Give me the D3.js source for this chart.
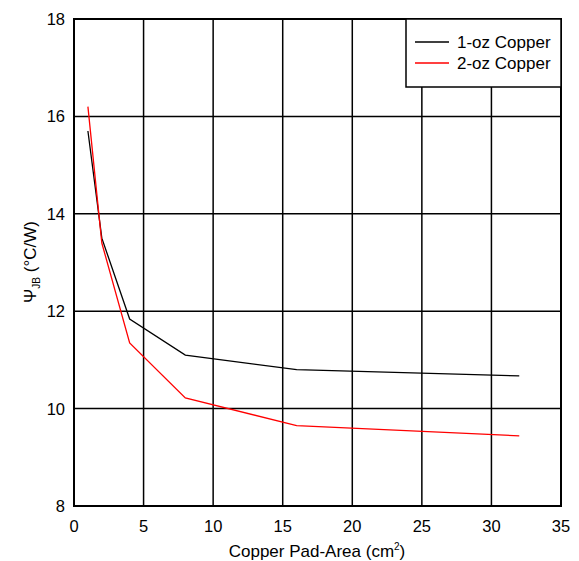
<!doctype html>
<html>
<head>
<script src="https://d3js.org/d3.v7.min.js"></script>
<style>
body { margin: 0; background: white; }
text { font-family: "Liberation Sans", Arial, sans-serif; }
</style>
</head>
<body>
<svg width="579" height="561" class="chart"></svg>
<script>
// values
var area = [1, 2, 4, 8, 16, 32];
var oz1 = [15.7, 13.5, 11.84, 11.1, 10.8, 10.67];
var oz2 = [16.2, 13.4, 11.35, 10.22, 9.65, 9.44];
var xTicks = [0, 5, 10, 15, 20, 25, 30, 35];
var yTicks = [8, 10, 12, 14, 16, 18];
var seriesNames = ["1-oz Copper", "2-oz Copper"];
var seriesColors = ["black", "red"];

var svg = d3.select(".chart");
var pl = 74, pt = 19, pr = 561, pb = 506;

var x = d3.scaleLinear().domain([0, 35]).range([pl, pr]);
var y = d3.scaleLinear().domain([8, 18]).range([pb, pt]);

// grid
svg.append("g").selectAll("line").data(xTicks).enter().append("line")
  .attr("x1", d => x(d)).attr("x2", d => x(d))
  .attr("y1", pt).attr("y2", pb)
  .style("stroke", "black").style("stroke-width", 1.5);
svg.append("g").selectAll("line").data(yTicks).enter().append("line")
  .attr("x1", pl).attr("x2", pr)
  .attr("y1", d => y(d)).attr("y2", d => y(d))
  .style("stroke", "black").style("stroke-width", 1.5);

svg.append("rect")
  .attr("x", pl).attr("y", pt)
  .attr("width", pr - pl).attr("height", pb - pt)
  .style("fill", "none").style("stroke", "black").style("stroke-width", 2);

// tick labels
svg.append("g").selectAll("text").data(xTicks).enter().append("text")
  .attr("x", d => x(d)).attr("y", 532)
  .attr("text-anchor", "middle")
  .style("font-size", "16.5px")
  .text(d => d);
svg.append("g").selectAll("text").data(yTicks).enter().append("text")
  .attr("x", 65).attr("y", d => y(d) + 6)
  .attr("text-anchor", "end")
  .style("font-size", "16.5px")
  .text(d => d);

// axis titles
var xt = svg.append("text")
  .attr("x", 317).attr("y", 557)
  .attr("text-anchor", "middle")
  .style("font-size", "17px");
xt.append("tspan").text("Copper Pad-Area (cm");
xt.append("tspan").attr("dy", -7).style("font-size", "10px").text("2");
xt.append("tspan").attr("dy", 7).text(")");

var yt = svg.append("text")
  .attr("transform", "translate(36,262) rotate(-90)")
  .attr("text-anchor", "middle")
  .style("font-size", "17px");
yt.append("tspan").text("\u03A8");
yt.append("tspan").attr("dy", 4).style("font-size", "10px").text("JB");
yt.append("tspan").attr("dy", -4).text(" (\u00B0C/W)");

// curves
var line = d3.line().x(d => x(d[0])).y(d => y(d[1]));
[oz1, oz2].forEach(function(vals, i) {
  svg.append("path")
    .datum(area.map((a, j) => [a, vals[j]]))
    .attr("d", line)
    .style("fill", "none")
    .style("stroke", seriesColors[i])
    .style("stroke-width", 1.3);
});

// legend
svg.append("rect")
  .attr("x", 406).attr("y", pt)
  .attr("width", pr - 406).attr("height", 68)
  .style("fill", "white").style("stroke", "black").style("stroke-width", 1.5);
seriesNames.forEach(function(n, i) {
  var ly = 42 + i * 21;
  svg.append("line")
    .attr("x1", 415).attr("x2", 449).attr("y1", ly).attr("y2", ly)
    .style("stroke", seriesColors[i]).style("stroke-width", 1.3);
  svg.append("text")
    .attr("x", 457).attr("y", ly + 6)
    .style("font-size", "17px")
    .text(n);
});
</script>
</body>
</html>
